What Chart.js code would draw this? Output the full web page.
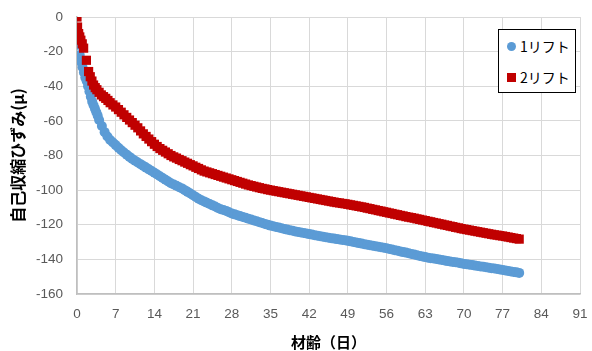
<!DOCTYPE html>
<html>
<head>
<meta charset="utf-8">
<script src="https://cdn.jsdelivr.net/npm/chart.js@4/dist/chart.umd.min.js"></script>
<style>
  body { margin: 0; background: #fff; }
  #wrap { position: relative; width: 592px; height: 351px; }
  #legend {
    position: absolute; left: 498px; top: 29px; width: 76px; height: 62px;
    border: 1px solid #000; background: #fff;
    font-family: "Noto Sans CJK JP", sans-serif; font-size: 14px; color: #000;
  }
  .item { position: absolute; left: 0; height: 20px; line-height: 20px; }
  .item span.txt { position: absolute; left: 21px; white-space: nowrap; }
  .mark { position: absolute; }
</style>
</head>
<body>
<div id="wrap">
  <canvas id="chart" width="592" height="351"></canvas>
  <div id="legend"></div>
</div>
<script>
// 材齢 (days) and 自己収縮ひずみ (μ)
const seriesNames = ['1リフト', '2リフト'];
const colors = ['#5B9BD5', '#C00000'];

const days1 = [0, 0.25, 0.5, 0.75, 1, 1.25, 1.5, 1.75, 2, 2.25, 2.5, 2.75, 3, 3.25, 3.5, 3.75, 4, 4.5,
  5, 5.5, 6, 6.5, 7, 7.5, 8, 8.5, 9, 9.5, 10, 10.5, 11, 11.5, 12, 12.5, 13, 13.5, 14, 14.5,
  15, 15.5, 16, 16.5, 17, 17.5, 18, 18.5, 19, 19.5, 20, 20.5, 21, 21.5, 22, 22.5, 23, 23.5, 24, 24.5,
  25, 25.5, 26, 26.5, 27, 27.5, 28, 28.5, 29, 29.5, 30, 30.5, 31, 31.5, 32, 32.5, 33, 33.5, 34, 34.5,
  35, 35.5, 36, 36.5, 37, 37.5, 38, 38.5, 39, 39.5, 40, 40.5, 41, 41.5, 42, 42.5, 43, 43.5, 44, 44.5,
  45, 45.5, 46, 46.5, 47, 47.5, 48, 48.5, 49, 49.5, 50, 50.5, 51, 51.5, 52, 52.5, 53, 53.5, 54, 54.5,
  55, 55.5, 56, 56.5, 57, 57.5, 58, 58.5, 59, 59.5, 60, 60.5, 61, 61.5, 62, 62.5, 63, 63.5, 64, 64.5,
  65, 65.5, 66, 66.5, 67, 67.5, 68, 68.5, 69, 69.5, 70, 70.5, 71, 71.5, 72, 72.5, 73, 73.5, 74, 74.5,
  75, 75.5, 76, 76.5, 77, 77.5, 78, 78.5, 79, 79.5, 80];
const strain1 = [-10, -16, -22, -26, -29, -32, -35, -37, -40, -43, -46, -49, -51, -53, -55, -57, -59.5, -63,
  -66.5, -69, -71, -72.5, -74, -75.5, -77, -78.3, -79.5, -80.8, -82, -83, -84, -85, -86, -87, -88, -89, -90, -91,
  -92, -93, -94, -95, -96, -96.8, -97.5, -98.3, -99, -100, -101, -102, -103, -104, -105, -105.8, -106.5, -107.3, -108, -108.8,
  -109.5, -110.3, -111, -111.5, -112, -112.8, -113.5, -114, -114.5, -115, -115.5, -116, -116.5, -117, -117.5, -118, -118.5, -119, -119.5, -120,
  -120.5, -120.9, -121.3, -121.6, -122, -122.4, -122.8, -123.2, -123.5, -123.9, -124.2, -124.5, -124.8, -125.1, -125.4, -125.7, -126, -126.3, -126.6, -126.9,
  -127.2, -127.5, -127.8, -128, -128.3, -128.5, -128.8, -129, -129.3, -129.6, -130, -130.3, -130.6, -130.9, -131.2, -131.5, -131.8, -132.1, -132.4, -132.7,
  -133, -133.3, -133.6, -134, -134.3, -134.7, -135, -135.4, -135.8, -136.1, -136.5, -136.9, -137.2, -137.6, -138, -138.3, -138.7, -139, -139.3, -139.5,
  -139.8, -140.1, -140.4, -140.7, -141, -141.2, -141.5, -141.7, -142, -142.3, -142.6, -142.8, -143.1, -143.3, -143.6, -143.8, -144.1, -144.3, -144.6, -144.8,
  -145.1, -145.3, -145.6, -145.8, -146.1, -146.4, -146.7, -147, -147.3, -147.5, -147.8];

const days2 = [0, 0.1, 0.3, 0.5, 0.7, 0.95, 1.2, 1.7, 2.1, 2.4, 2.7, 3, 3.3, 3.6, 4, 4.4, 4.8, 5.2, 5.6,
  6, 6.5, 7, 7.5, 8, 8.5, 9, 9.5, 10, 10.5, 11, 11.5, 12, 12.5, 13, 13.5, 14, 14.5,
  15, 15.5, 16, 16.5, 17, 17.5, 18, 18.5, 19, 19.5, 20, 20.5, 21, 21.5, 22, 22.5, 23, 23.5, 24, 24.5,
  25, 25.5, 26, 26.5, 27, 27.5, 28, 28.5, 29, 29.5, 30, 30.5, 31, 31.5, 32, 32.5, 33, 33.5, 34, 34.5,
  35, 35.5, 36, 36.5, 37, 37.5, 38, 38.5, 39, 39.5, 40, 40.5, 41, 41.5, 42, 42.5, 43, 43.5, 44, 44.5,
  45, 45.5, 46, 46.5, 47, 47.5, 48, 48.5, 49, 49.5, 50, 50.5, 51, 51.5, 52, 52.5, 53, 53.5, 54, 54.5,
  55, 55.5, 56, 56.5, 57, 57.5, 58, 58.5, 59, 59.5, 60, 60.5, 61, 61.5, 62, 62.5, 63, 63.5, 64, 64.5,
  65, 65.5, 66, 66.5, 67, 67.5, 68, 68.5, 69, 69.5, 70, 70.5, 71, 71.5, 72, 72.5, 73, 73.5, 74, 74.5,
  75, 75.5, 76, 76.5, 77, 77.5, 78, 78.5, 79, 79.5, 80];
const strain2 = [0, -5.8, -9.6, -11.5, -13.4, -15.5, -18, -25, -31.5, -34.5, -37, -39.3, -40.8, -42, -43.5, -45, -46, -47, -48.2,
  -49.5, -50.8, -52, -53.5, -55, -56.5, -58, -59.5, -61, -62.5, -64, -65.8, -67.5, -69, -70.5, -72, -73.5, -74.8,
  -76, -77, -78, -79, -80, -80.8, -81.5, -82.3, -83, -83.8, -84.5, -85.3, -86, -86.8, -87.5, -88.3, -89, -89.5, -90, -90.5,
  -91, -91.5, -92, -92.5, -93, -93.5, -94, -94.5, -95, -95.5, -96, -96.5, -97, -97.4, -97.8, -98.2, -98.6, -99, -99.3, -99.7,
  -100, -100.3, -100.6, -100.9, -101.2, -101.5, -101.8, -102.1, -102.4, -102.7, -103, -103.3, -103.6, -103.9, -104.2, -104.5, -104.8, -105.1, -105.4, -105.7,
  -106, -106.3, -106.6, -106.9, -107.2, -107.4, -107.7, -107.9, -108.2, -108.5, -108.8, -109.1, -109.4, -109.7, -110, -110.4, -110.7, -111.1, -111.4, -111.8,
  -112.1, -112.5, -112.8, -113.2, -113.5, -113.9, -114.2, -114.6, -114.9, -115.3, -115.6, -115.9, -116.2, -116.6, -116.9, -117.3, -117.6, -118, -118.3, -118.7,
  -119, -119.4, -119.7, -120.1, -120.4, -120.8, -121.1, -121.5, -121.8, -122.2, -122.5, -122.8, -123.1, -123.4, -123.7, -124, -124.3, -124.6, -124.9, -125.2,
  -125.5, -125.8, -126, -126.3, -126.5, -126.8, -127.1, -127.4, -127.7, -128, -128.3];

const xTicks = [0, 7, 14, 21, 28, 35, 42, 49, 56, 63, 70, 77, 84, 91];
const yTicks = [0, -20, -40, -60, -80, -100, -120, -140, -160];

const xTitle = '材齢（日）';
const yTitle = '自己収縮ひずみ(μ)';

function toPoints(xs, ys) {
  return xs.map((x, i) => ({ x: x, y: ys[i] }));
}

const tickFont = { family: 'Liberation Sans', size: 13.5 };
const titleFontFamily = '"Noto Sans CJK JP", sans-serif';

// 2リフト first so it is drawn on top of 1リフト
new Chart(document.getElementById('chart'), {
  type: 'scatter',
  data: {
    datasets: [{
      label: seriesNames[1],
      data: toPoints(days2, strain2),
      pointStyle: 'rect',
      pointRadius: 6.5,
      pointBorderWidth: 0,
      backgroundColor: colors[1],
      borderColor: colors[1]
    }, {
      label: seriesNames[0],
      data: toPoints(days1, strain1),
      pointStyle: 'circle',
      pointRadius: 5,
      pointBorderWidth: 0,
      backgroundColor: colors[0],
      borderColor: colors[0]
    }]
  },
  options: {
    responsive: false,
    animation: false,
    layout: { padding: { top: 17, right: 12, left: 0, bottom: 0 } },
    plugins: { legend: { display: false }, tooltip: { enabled: false } },
    scales: {
      x: {
        type: 'linear',
        min: 0,
        max: 91,
        afterBuildTicks: (scale) => { scale.ticks = xTicks.map(v => ({ value: v })); },
        afterFit: (scale) => {
          scale.height = 57;
          scale.paddingLeft = 0;
          scale.paddingRight = 0;
        },
        ticks: { color: '#595959', font: tickFont, padding: 12, maxRotation: 0 },
        grid: { color: '#D9D9D9', lineWidth: 1, drawTicks: false },
        border: { color: '#BFBFBF', width: 1.5 },
        title: {
          display: true, text: xTitle, color: '#000',
          font: { family: titleFontFamily, size: 15, weight: 'bold' },
          padding: { top: 0, bottom: 0 }
        }
      },
      y: {
        min: -160,
        max: 0,
        afterBuildTicks: (scale) => { scale.ticks = yTicks.map(v => ({ value: v })); },
        afterFit: (scale) => {
          scale.width = 77;
          scale.paddingTop = 0;
          scale.paddingBottom = 0;
        },
        ticks: { color: '#595959', font: tickFont, padding: 14 },
        grid: { color: '#D9D9D9', lineWidth: 1, drawTicks: false },
        border: { color: '#BFBFBF', width: 1.5 },
        title: {
          display: true, text: yTitle, color: '#000',
          font: { family: titleFontFamily, size: 16, weight: 'bold' },
          padding: { top: 8, bottom: 0 }
        }
      }
    }
  }
});

// legend box
const legend = document.getElementById('legend');
seriesNames.forEach((name, i) => {
  const item = document.createElement('div');
  item.className = 'item';
  item.style.top = (i === 0 ? 6 : 37) + 'px';
  item.style.width = '76px';
  const mark = document.createElement('div');
  mark.className = 'mark';
  if (i === 0) {
    mark.style.cssText = 'left:8px;top:6px;width:9px;height:9px;border-radius:50%;background:' + colors[0];
  } else {
    mark.style.cssText = 'left:8px;top:6px;width:9px;height:9px;background:' + colors[1];
  }
  const txt = document.createElement('span');
  txt.className = 'txt';
  txt.textContent = name;
  item.appendChild(mark);
  item.appendChild(txt);
  legend.appendChild(item);
});
</script>
</body>
</html>
